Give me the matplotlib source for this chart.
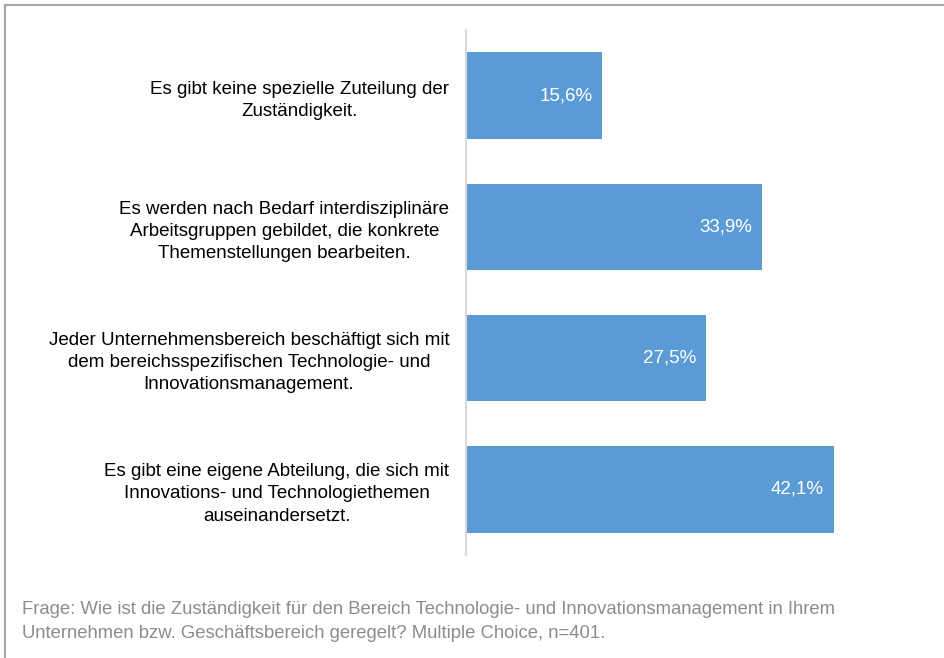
import matplotlib.pyplot as plt
from matplotlib.lines import Line2D

plt.rcParams['font.family'] = ['Liberation Sans', 'DejaVu Sans']

categories = [
    "Es gibt keine spezielle Zuteilung der\nZuständigkeit.",
    "Es werden nach Bedarf interdisziplinäre\nArbeitsgruppen gebildet, die konkrete\nThemenstellungen bearbeiten.",
    "Jeder Unternehmensbereich beschäftigt sich mit\ndem bereichsspezifischen Technologie- und\nInnovationsmanagement.",
    "Es gibt eine eigene Abteilung, die sich mit\nInnovations- und Technologiethemen\nauseinandersetzt.",
]
values = [15.6, 33.9, 27.5, 42.1]
note = ("Frage: Wie ist die Zuständigkeit für den Bereich Technologie- und Innovationsmanagement in Ihrem\n"
        "Unternehmen bzw. Geschäftsbereich geregelt? Multiple Choice, n=401.")

W, H = 944, 658
fig = plt.figure(figsize=(W / 100, H / 100), dpi=100)
fig.patch.set_facecolor('white')

# outer frame: only top and left edges are visible
fig.add_artist(Line2D([5 / W, 1], [1 - 5 / H, 1 - 5 / H], transform=fig.transFigure,
                      color='#a6a6a6', linewidth=1.5))
fig.add_artist(Line2D([5 / W, 5 / W], [0, 1 - 5 / H], transform=fig.transFigure,
                      color='#a6a6a6', linewidth=1.5))

ax = fig.add_axes([466 / W, 1 - 555 / H, 437 / W, 525 / H])
ypos = list(range(len(values)))
ax.barh(ypos, values, height=0.66, color='#5B9BD5')
ax.set_xlim(0, 50)
ax.set_ylim(len(values) - 0.5, -0.5)

for y, v in zip(ypos, values):
    ax.text(v - 1.15, y, f"{v:.1f}%".replace('.', ','), ha='right', va='center',
            color='white', fontsize=13.5)

ax.set_yticks(ypos)
ax.set_yticklabels(categories, fontsize=13.5, multialignment='center', linespacing=1.4)
ax.tick_params(axis='y', length=0, pad=12)
ax.set_xticks([])
for s in ['top', 'right', 'bottom']:
    ax.spines[s].set_visible(False)
ax.spines['left'].set_color('#d9d9d9')
ax.spines['left'].set_linewidth(1.5)

fig.text(22 / W, 1 - 601 / H, note, ha='left', va='top', fontsize=13.3,
         color='#8c8c8c', linespacing=1.55)

fig.savefig('out.png', dpi=100)
